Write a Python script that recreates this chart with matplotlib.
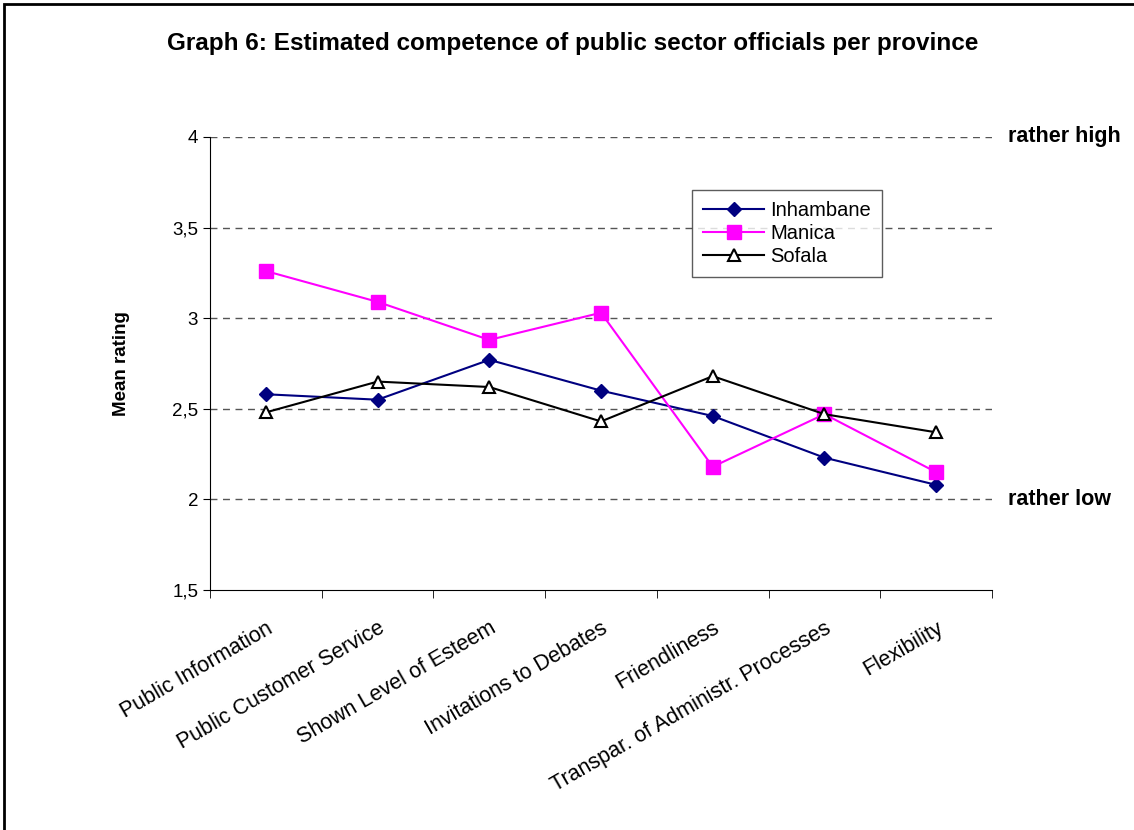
import matplotlib
matplotlib.use("Agg")
import matplotlib.pyplot as plt
from matplotlib.patches import Rectangle
from matplotlib.ticker import FixedLocator, FuncFormatter

plt.rcParams['font.family'] = ['Liberation Sans', 'DejaVu Sans']

categories = [
    "Public Information",
    "Public Customer Service",
    "Shown Level of Esteem",
    "Invitations to Debates",
    "Friendliness",
    "Transpar. of Administr. Processes",
    "Flexibility",
]
inhambane = [2.58, 2.55, 2.77, 2.60, 2.46, 2.23, 2.08]
manica = [3.26, 3.09, 2.88, 3.03, 2.18, 2.47, 2.15]
sofala = [2.48, 2.65, 2.62, 2.43, 2.68, 2.47, 2.37]

fig = plt.figure(figsize=(11.34, 8.3), dpi=100)
ax = fig.add_axes([0.1852, 0.2892, 0.6896, 0.5458])

x = list(range(len(categories)))
ax.plot(x, inhambane, color="#000080", marker="D", markersize=7, lw=1.5,
        label="Inhambane")
ax.plot(x, manica, color="#ff00ff", marker="s", markersize=10, lw=1.5,
        label="Manica")
ax.plot(x, sofala, color="black", marker="^", markersize=9, lw=1.5,
        markerfacecolor="white", markeredgewidth=1.5, label="Sofala")

ax.set_xlim(-0.5, len(categories) - 0.5)
ax.set_ylim(1.5, 4)
for v in [2, 2.5, 3, 3.5, 4]:
    ax.axhline(v, color="#555555", lw=1, dashes=(5, 4), zorder=0)

ax.set_yticks([1.5, 2, 2.5, 3, 3.5, 4])
ax.yaxis.set_major_formatter(FuncFormatter(lambda v, p: f"{v:g}".replace(".", ",")))
ax.tick_params(axis="y", labelsize=13.5, length=5, direction="out")

# category names sit between the boundary ticks, slanted
ax.set_xticks(x)
ax.set_xticklabels(categories, rotation=30, ha="right", rotation_mode="anchor",
                   fontsize=15.5)
ax.tick_params(axis="x", which="major", length=0, pad=20)
ax.xaxis.set_minor_locator(FixedLocator([i - 0.5 for i in range(len(categories) + 1)]))
ax.tick_params(axis="x", which="minor", length=6, direction="out")

for side in ["top", "right"]:
    ax.spines[side].set_visible(False)

ax.set_ylabel("Mean rating", fontsize=13.5, fontweight="bold", labelpad=30)

ax.text(1.02, 4, "rather high", transform=ax.get_yaxis_transform(),
        fontsize=15.5, fontweight="bold", va="center", ha="left")
ax.text(1.02, 2, "rather low", transform=ax.get_yaxis_transform(),
        fontsize=15.5, fontweight="bold", va="center", ha="left")

fig.text(0.505, 0.947, "Graph 6: Estimated competence of public sector officials per province",
         fontsize=17.5, fontweight="bold", ha="center", va="center")

leg = ax.legend(loc="upper left", bbox_to_anchor=(0.604, 0.905), fontsize=14.5,
                frameon=True, fancybox=False, edgecolor="#333333",
                handlelength=3.0, borderpad=0.55, labelspacing=0.2,
                handletextpad=0.3)
leg.get_frame().set_linewidth(1)

fig.patches.append(Rectangle((0.0035, -0.1), 1.2, 1.095, transform=fig.transFigure,
                             fill=False, edgecolor="black", lw=2))

fig.savefig("out.png", dpi=100)
